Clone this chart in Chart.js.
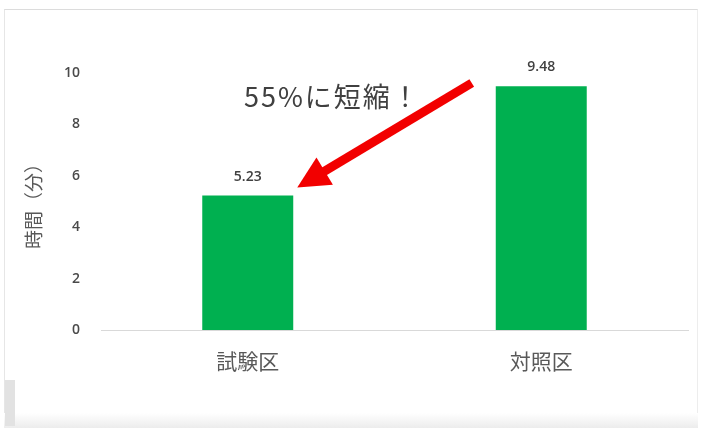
<!DOCTYPE html>
<html>
<head>
<meta charset="utf-8">
<script src="https://cdn.jsdelivr.net/npm/chart.js@4"></script>
<style>
  html, body { margin: 0; padding: 0; background: #ffffff; }
  #wrap { position: relative; width: 702px; height: 428px; overflow: hidden; background: #ffffff; }
  #frame {
    position: absolute; left: 4px; top: 9px; width: 692px; height: 418px;
    border-top: 1px solid #dcdcdc; border-left: 1px solid #e6e6e6; border-right: 1px solid #ededed;
  }
  #foot { position: absolute; left: 4px; top: 413px; width: 694px; height: 15px; background: linear-gradient(#ffffff, #ececec); }
  #tab { position: absolute; left: 5px; top: 380px; width: 10px; height: 46px; background: #e2e2e2; }
  canvas { position: absolute; left: 0; top: 0; }
</style>
</head>
<body>
<div id="wrap">
  <div id="frame"></div>
  <div id="foot"></div>
  <div id="tab"></div>
  <canvas id="chart" width="702" height="428"></canvas>
</div>
<script>
// Task time per plot (minutes)
const categories = ['試験区', '対照区'];
const timeMinutes = [5.23, 9.48];
const yTickValues = [0, 2, 4, 6, 8, 10];
const yAxisTitle = '時間（分）';
const calloutText = '55%に短縮！';

const JP_FONT = '"Noto Sans CJK JP", "Noto Sans", sans-serif';
const NUM_FONT = '"Open Sans", "Noto Sans", sans-serif';

// Value labels above each bar
const valueLabels = {
  id: 'valueLabels',
  afterDatasetsDraw(chart) {
    const ctx = chart.ctx;
    const meta = chart.getDatasetMeta(0);
    ctx.save();
    ctx.font = '600 14px ' + NUM_FONT;
    ctx.fillStyle = '#404040';
    ctx.textAlign = 'center';
    ctx.textBaseline = 'middle';
    meta.data.forEach((bar, i) => {
      ctx.fillText(timeMinutes[i].toFixed(2), bar.x, bar.y - 19);
    });
    ctx.restore();
  }
};

// Red arrow pointing at the shorter bar, with the reduction callout
const callout = {
  id: 'callout',
  afterDraw(chart) {
    const ctx = chart.ctx;
    const meta = chart.getDatasetMeta(0);
    const a = meta.data[0], b = meta.data[1];
    const yTop = chart.scales.y.getPixelForValue(yTickValues[yTickValues.length - 1]);

    const tip = { x: a.x + a.width / 2 + 4, y: a.y - 8 };
    const tail = { x: b.x - b.width / 2 - 24, y: yTop + 10 };
    const ang = Math.atan2(tip.y - tail.y, tip.x - tail.x);
    const headLen = 32, headHalf = 16, shaft = 9;
    const base = { x: tip.x - headLen * Math.cos(ang), y: tip.y - headLen * Math.sin(ang) };
    const nx = -Math.sin(ang), ny = Math.cos(ang);

    ctx.save();
    ctx.strokeStyle = '#f20000';
    ctx.fillStyle = '#f20000';
    ctx.lineWidth = shaft;
    ctx.lineCap = 'butt';
    ctx.beginPath();
    ctx.moveTo(tail.x, tail.y);
    ctx.lineTo(base.x + 2 * Math.cos(ang), base.y + 2 * Math.sin(ang));
    ctx.stroke();
    ctx.beginPath();
    ctx.moveTo(tip.x, tip.y);
    ctx.lineTo(base.x + nx * headHalf, base.y + ny * headHalf);
    ctx.lineTo(base.x - nx * headHalf, base.y - ny * headHalf);
    ctx.closePath();
    ctx.fill();

    ctx.font = '27px ' + JP_FONT;
    ctx.letterSpacing = '2px';
    ctx.fillStyle = '#404040';
    ctx.textAlign = 'left';
    ctx.textBaseline = 'middle';
    ctx.fillText(calloutText, chart.chartArea.left + 143, yTop + 24);
    ctx.restore();
  }
};

new Chart(document.getElementById('chart'), {
  type: 'bar',
  data: {
    labels: categories,
    datasets: [{
      data: timeMinutes,
      backgroundColor: '#00b050',
      borderWidth: 0,
      categoryPercentage: 1,
      barPercentage: 0.31
    }]
  },
  options: {
    responsive: false,
    animation: false,
    events: [],
    layout: { padding: { top: 73, right: 14, left: 0, bottom: 0 } },
    plugins: {
      legend: { display: false },
      tooltip: { enabled: false },
      title: { display: false }
    },
    scales: {
      x: {
        grid: { display: false },
        border: { display: true, color: '#d9d9d9', width: 1 },
        ticks: { color: '#595959', padding: 10, font: { family: JP_FONT, size: 21 } },
        afterFit(scale) { scale.height = 98; }
      },
      y: {
        min: 0,
        max: 10,
        afterBuildTicks(scale) { scale.ticks = yTickValues.map(v => ({ value: v })); },
        grid: { display: false },
        border: { display: false },
        ticks: { color: '#4a4a4a', padding: 13, font: { family: NUM_FONT, size: 14, weight: '600' } },
        title: {
          display: true,
          text: yAxisTitle,
          color: '#595959',
          font: { family: JP_FONT, size: 19 },
          padding: { top: 22, bottom: 0 }
        },
        afterFit(scale) { scale.width = 101; }
      }
    }
  },
  plugins: [valueLabels, callout]
});
</script>
</body>
</html>
